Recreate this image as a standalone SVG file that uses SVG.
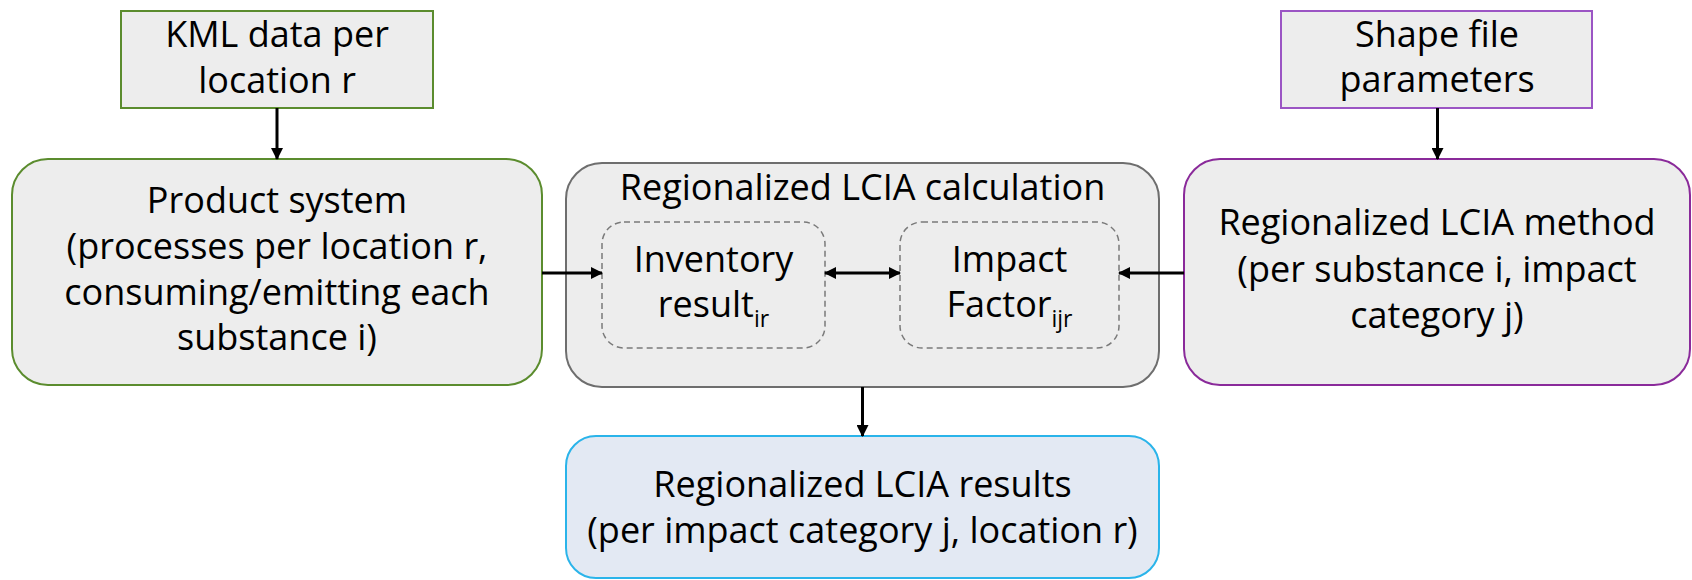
<svg xmlns="http://www.w3.org/2000/svg" width="1692" height="580" viewBox="0 0 1692 580">
  <style>
    .lbl { font-family: "Open Sans", "Noto Sans", "Liberation Sans", sans-serif; font-size: 36px; fill: #000; text-anchor: middle; }
    .sub { font-size: 23px; }
    .box { fill: #ededed; stroke-width: 2; }
    .green { stroke: #5b8c2e; }
    .purple { stroke: #8a2a9a; }
    .lilac { stroke: #9b55c4; }
    .grey { stroke: #6e6e6e; }
    .dash { fill: none; stroke: #7a7a7a; stroke-width: 1.5; stroke-dasharray: 6 4; }
    .result { fill: #e3e9f3; stroke: #2ab4ea; stroke-width: 2; }
    .conn { fill: none; stroke: #000; stroke-width: 3; }
  </style>
  <defs>
    <marker id="head" viewBox="0 0 12 12" refX="11" refY="6" markerWidth="12" markerHeight="12" markerUnits="userSpaceOnUse" orient="auto-start-reverse">
      <path d="M0,0 L12,6 L0,12 z" fill="#000"/>
    </marker>
  </defs>

  <rect width="1692" height="580" fill="#fff"/>

  <g id="kml-data">
    <rect class="box green" x="121" y="11" width="312" height="97"/>
    <text class="lbl" x="277" y="47">KML data per</text>
    <text class="lbl" x="277" y="93">location r</text>
  </g>

  <g id="shape-file">
    <rect class="box lilac" x="1281" y="11" width="311" height="97"/>
    <text class="lbl" x="1437" y="47">Shape file</text>
    <text class="lbl" x="1437" y="92">parameters</text>
  </g>

  <g id="product-system">
    <rect class="box green" x="12" y="159" width="530" height="226" rx="36"/>
    <text class="lbl" x="277" y="213">Product system</text>
    <text class="lbl" x="277" y="259">(processes per location r,</text>
    <text class="lbl" x="277" y="305">consuming/emitting each</text>
    <text class="lbl" x="277" y="350">substance i)</text>
  </g>

  <g id="lcia-calculation">
    <rect class="box grey" x="566" y="163" width="593" height="224" rx="36"/>
    <text class="lbl" x="862.5" y="200">Regionalized LCIA calculation</text>
    <g id="inventory-result">
      <rect class="dash" x="602" y="222" width="223" height="126" rx="22"/>
      <text class="lbl" x="713.5" y="272">Inventory</text>
      <text class="lbl" x="713.5" y="317">result<tspan class="sub" dy="10">ir</tspan></text>
    </g>
    <g id="impact-factor">
      <rect class="dash" x="900" y="222" width="219" height="126" rx="22"/>
      <text class="lbl" x="1009.5" y="272">Impact</text>
      <text class="lbl" x="1009.5" y="317">Factor<tspan class="sub" dy="10">ijr</tspan></text>
    </g>
  </g>

  <g id="lcia-method">
    <rect class="box purple" x="1184" y="159" width="506" height="226" rx="36"/>
    <text class="lbl" x="1437" y="235">Regionalized LCIA method</text>
    <text class="lbl" x="1437" y="282">(per substance i, impact</text>
    <text class="lbl" x="1437" y="328">category j)</text>
  </g>

  <g id="lcia-results">
    <rect class="result" x="566" y="436" width="593" height="142" rx="30"/>
    <text class="lbl" x="862.5" y="497">Regionalized LCIA results</text>
    <text class="lbl" x="862.5" y="543">(per impact category j, location r)</text>
  </g>

  <g id="connectors">
    <line class="conn" x1="277" y1="108" x2="277" y2="159" marker-end="url(#head)"/>
    <line class="conn" x1="1437.5" y1="108" x2="1437.5" y2="159" marker-end="url(#head)"/>
    <line class="conn" x1="542" y1="273" x2="602" y2="273" marker-end="url(#head)"/>
    <line class="conn" x1="1184" y1="273" x2="1119" y2="273" marker-end="url(#head)"/>
    <line class="conn" x1="825" y1="273" x2="900" y2="273" marker-start="url(#head)" marker-end="url(#head)"/>
    <line class="conn" x1="862.5" y1="387" x2="862.5" y2="436" marker-end="url(#head)"/>
  </g>
</svg>
